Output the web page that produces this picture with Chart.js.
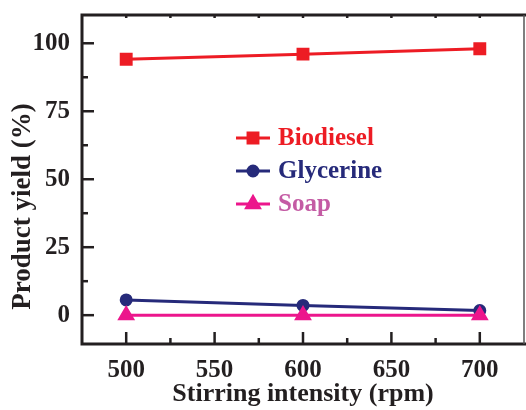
<!DOCTYPE html>
<html>
<head>
<meta charset="utf-8">
<script src="https://cdn.jsdelivr.net/npm/chart.js@4/dist/chart.umd.min.js"></script>
<style>
    html, body { margin: 0; padding: 0; background: #fff; }
    canvas { display: block; }
</style>
</head>
<body>
<canvas id="chart" width="526" height="410"></canvas>
<script>
    "use strict";

    // stirring speeds (rpm) and yields (%)
    const speeds = [500, 600, 700];
    const biodiesel = [94.1, 96, 98];
    const glycerine = [5.6, 3.6, 1.7];
    const soap = [0, 0, 0];

    const seriesNames = ['Biodiesel', 'Glycerine', 'Soap'];
    const xTickValues = [500, 550, 600, 650, 700];
    const yTickValues = [0, 25, 50, 75, 100];
    const yTitle = 'Product yield (%)';

    const axisColor = '#231f20';
    const serif = "'Liberation Serif', 'Times New Roman', serif";

    // no extra room for the end labels, the frame is fixed
    function fixBox(scale) {
        scale.paddingLeft = 0;
        scale.paddingRight = 0;
        scale.paddingTop = 0;
        scale.paddingBottom = 0;
    }

    // frame, inward ticks, y title and the in-plot legend
    const framePlugin = {
        id: 'frame',
        afterDatasetsDraw(chart) {
            let ctx = chart.ctx;
            let area = chart.chartArea;
            let x = chart.scales.x;
            let y = chart.scales.y;

            ctx.save();
            ctx.strokeStyle = axisColor;
            ctx.lineCap = 'butt';

            // x ticks: labelled ones long, halves short
            ctx.lineWidth = 2.5;
            for (let i = 0; i < xTickValues.length; i++) {
                let v = xTickValues[i];
                let px = x.getPixelForValue(v);
                ctx.beginPath();
                ctx.moveTo(px, area.bottom);
                ctx.lineTo(px, area.bottom - 12);
                ctx.stroke();
                ctx.beginPath();
                ctx.moveTo(px, area.top);
                ctx.lineTo(px, area.top + 3);
                ctx.stroke();
                if (i < xTickValues.length - 1) {
                    let mx = x.getPixelForValue((v + xTickValues[i + 1]) / 2);
                    ctx.beginPath();
                    ctx.moveTo(mx, area.bottom);
                    ctx.lineTo(mx, area.bottom - 6);
                    ctx.stroke();
                    ctx.beginPath();
                    ctx.moveTo(mx, area.top);
                    ctx.lineTo(mx, area.top + 3);
                    ctx.stroke();
                }
            }

            // y ticks
            for (let i = 0; i < yTickValues.length; i++) {
                let v = yTickValues[i];
                let py = y.getPixelForValue(v);
                ctx.beginPath();
                ctx.moveTo(area.left, py);
                ctx.lineTo(area.left + 12, py);
                ctx.stroke();
                if (i < yTickValues.length - 1) {
                    let my = y.getPixelForValue((v + yTickValues[i + 1]) / 2);
                    ctx.beginPath();
                    ctx.moveTo(area.left, my);
                    ctx.lineTo(area.left + 6, my);
                    ctx.stroke();
                }
            }

            // box
            ctx.lineWidth = 3;
            ctx.beginPath();
            ctx.moveTo(area.right + 2, area.top);
            ctx.lineTo(area.left, area.top);
            ctx.lineTo(area.left, area.bottom);
            ctx.lineTo(area.right + 2, area.bottom);
            ctx.stroke();
            ctx.lineWidth = 1.5;
            ctx.strokeStyle = '#555';
            ctx.beginPath();
            ctx.moveTo(area.right, area.top);
            ctx.lineTo(area.right, area.bottom);
            ctx.stroke();

            // y title sits a little below the middle of the axis
            ctx.save();
            ctx.translate(23, y.getPixelForValue(40));
            ctx.rotate(-Math.PI / 2);
            ctx.font = 'bold 27px ' + serif;
            ctx.fillStyle = axisColor;
            ctx.textAlign = 'center';
            ctx.textBaseline = 'middle';
            ctx.fillText(yTitle, 0, 0);
            ctx.restore();

            // legend
            let lx = 236;
            let ly = 138;
            ctx.font = 'bold 25px ' + serif;
            ctx.textAlign = 'left';
            ctx.textBaseline = 'middle';
            chart.data.datasets.forEach((ds, i) => {
                let cy = ly + i * 33;
                ctx.strokeStyle = ds.borderColor;
                ctx.lineWidth = 3;
                ctx.beginPath();
                ctx.moveTo(lx, cy);
                ctx.lineTo(lx + 34, cy);
                ctx.stroke();
                ctx.fillStyle = ds.backgroundColor;
                ctx.strokeStyle = ds.borderColor;
                Chart.helpers.drawPoint(ctx, {
                    pointStyle: ds.pointStyle,
                    radius: ds.pointRadius,
                    rotation: 0,
                    borderWidth: 1
                }, lx + 17, cy);
                ctx.fillStyle = ds.legendTextColor;
                ctx.fillText(ds.label, lx + 42, cy + 1);
            });
            ctx.restore();
        }
    };

    new Chart(document.getElementById('chart'), {
        type: 'line',
        data: {
            datasets: [
                {
                    label: seriesNames[0],
                    data: speeds.map((s, i) => ({x: s, y: biodiesel[i]})),
                    borderColor: '#ed1c24',
                    backgroundColor: '#ed1c24',
                    legendTextColor: '#ed1c24',
                    pointStyle: 'rect',
                    pointRadius: 7,
                    borderWidth: 3,
                    order: 2,
                },
                {
                    label: seriesNames[1],
                    data: speeds.map((s, i) => ({x: s, y: glycerine[i]})),
                    borderColor: '#262a7a',
                    backgroundColor: '#262a7a',
                    legendTextColor: '#262a7a',
                    pointStyle: 'circle',
                    pointRadius: 5,
                    borderWidth: 3,
                    order: 1,
                },
                {
                    label: seriesNames[2],
                    data: speeds.map((s, i) => ({x: s, y: soap[i]})),
                    borderColor: '#ec168c',
                    backgroundColor: '#ec168c',
                    legendTextColor: '#c45ba4',
                    pointStyle: 'triangle',
                    pointRadius: 7.3,
                    borderWidth: 3,
                    order: 0,
                },
            ]
        },
        options: {
            responsive: false,
            animation: false,
            layout: {
                autoPadding: false,
                padding: {top: 15, right: 2, left: 0, bottom: 0}
            },
            elements: {
                point: {borderWidth: 1},
                line: {tension: 0},
            },
            plugins: {
                legend: {display: false},
                tooltip: {enabled: false},
            },
            scales: {
                x: {
                    type: 'linear',
                    min: 475,
                    max: 725,
                    afterFit: (scale) => { scale.height = 66; fixBox(scale); },
                    afterBuildTicks: (scale) => {
                        scale.ticks = xTickValues.map(v => ({value: v}));
                    },
                    grid: {display: false, drawTicks: false},
                    border: {display: false},
                    ticks: {
                        padding: 12,
                        color: axisColor,
                        font: {family: serif, size: 25, weight: 'bold'},
                    },
                    title: {
                        display: true,
                        text: 'Stirring intensity (rpm)',
                        color: axisColor,
                        padding: {top: 0, bottom: 0},
                        font: {family: serif, size: 26, weight: 'bold'},
                    },
                },
                y: {
                    type: 'linear',
                    min: -10.6,
                    max: 110.4,
                    afterFit: (scale) => { scale.width = 82; fixBox(scale); },
                    afterBuildTicks: (scale) => {
                        scale.ticks = yTickValues.map(v => ({value: v}));
                    },
                    grid: {display: false, drawTicks: false},
                    border: {display: false},
                    ticks: {
                        padding: 12,
                        color: axisColor,
                        font: {family: serif, size: 25, weight: 'bold'},
                    },
                },
            },
        },
        plugins: [framePlugin],
    });
</script>
</body>
</html>
